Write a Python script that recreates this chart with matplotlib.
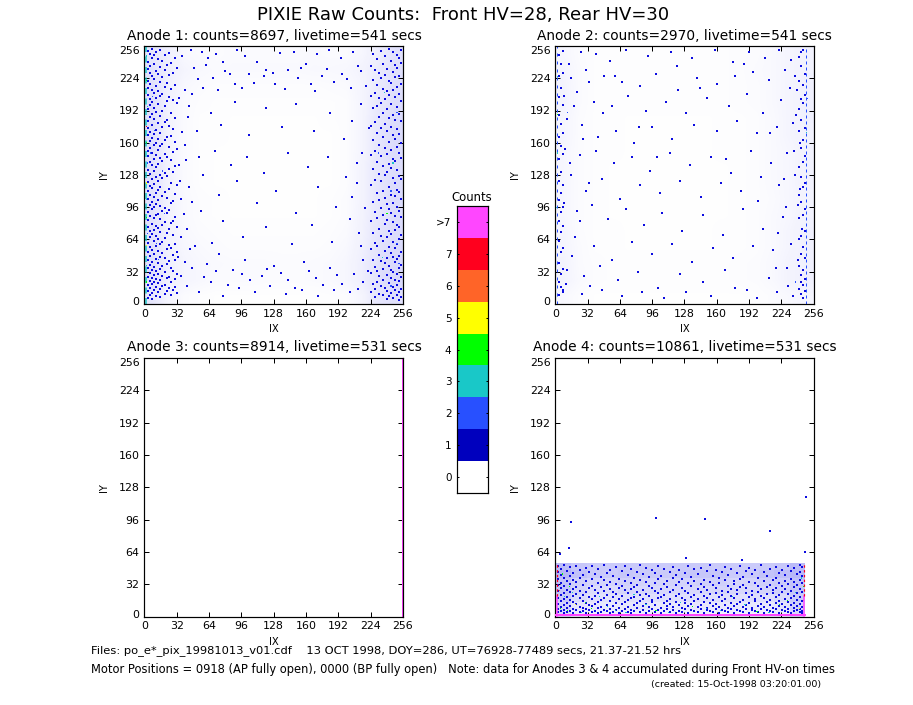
import matplotlib
matplotlib.use("Agg")
import matplotlib.pyplot as plt
import numpy as np
from matplotlib.colors import ListedColormap, LinearSegmentedColormap
from matplotlib.transforms import ScaledTranslation

plt.rcParams['font.family'] = ['DejaVu Sans']

W, H = 913, 705
main_title = "PIXIE Raw Counts:  Front HV=28, Rear HV=30"
panel_titles = ["Anode 1: counts=8697, livetime=541 secs",
                "Anode 2: counts=2970, livetime=541 secs",
                "Anode 3: counts=8914, livetime=531 secs",
                "Anode 4: counts=10861, livetime=531 secs"]
ticks = [0, 32, 64, 96, 128, 160, 192, 224, 256]
count_labels = ["0", "1", "2", "3", "4", "5", "6", "7", ">7"]
count_colors = ["#ffffff", "#0000be", "#2850ff", "#19c8c8", "#00ff00",
                "#ffff00", "#ff6428", "#ff001e", "#ff46ff"]
hit_color = "#0c0ce0"
foot1 = "Files: po_e*_pix_19981013_v01.cdf    13 OCT 1998, DOY=286, UT=76928-77489 secs, 21.37-21.52 hrs"
foot2 = "Motor Positions = 0918 (AP fully open), 0000 (BP fully open)   Note: data for Anodes 3 & 4 accumulated during Front HV-on times"
foot3 = "(created: 15-Oct-1998 03:20:01.00)"

# Estimated share (%) of lit pixels in 16x16 cells; rows from IY=240 down to IY=0,
# read by eye. The individual hits are far too many to read one by one.
p1_density = [
 [30,18, 8, 6, 5, 6, 6, 6, 6, 6, 7, 6, 6,10,20,35],
 [35,20,12, 8, 6, 7, 7, 7, 7, 7, 8, 8, 9,14,24,38],
 [36,18, 8, 5, 4, 4, 4, 4, 4, 4, 4, 5, 6,12,25,40],
 [38,16, 6, 4, 3, 3, 3, 3, 3, 3, 3, 3, 4,12,28,40],
 [38,15, 6, 3, 3, 2, 2, 2, 2, 2, 2, 3, 4,12,30,42],
 [38,14, 6, 3, 3, 2, 2, 2, 2, 2, 2, 2, 4,12,30,42],
 [38,14, 6, 3, 2, 2, 2, 2, 2, 2, 2, 2, 4,12,30,42],
 [36,15, 6, 3, 2, 2, 2, 2, 2, 2, 2, 2, 4,14,30,40],
 [36,16, 6, 3, 2, 2, 2, 2, 2, 2, 2, 2, 4,14,30,42],
 [36,16, 7, 4, 3, 2, 2, 2, 2, 2, 2, 3, 5,14,30,42],
 [36,16, 7, 4, 3, 2, 2, 2, 2, 2, 2, 3, 5,15,30,42],
 [36,17, 8, 5, 4, 3, 3, 3, 3, 3, 3, 4, 6,16,32,42],
 [36,18,10, 7, 5, 4, 4, 4, 4, 4, 4, 5, 8,18,34,44],
 [38,20,12, 9, 7, 6, 6, 6, 5, 5, 6, 7,10,20,36,46],
 [36,20,12, 9, 6, 6, 6, 5, 5, 5, 6, 7,10,20,36,46],
 [30,12, 5, 3, 2, 2, 2, 2, 2, 2, 2, 3, 4,12,30,36]]
p2_density = [
 [10, 5, 3, 3, 3, 3, 3, 3, 3, 3, 3, 4, 5, 8,12,16],
 [12, 6, 3, 3, 3, 3, 3, 3, 3, 3, 3, 4, 6, 8,12,16],
 [14, 6, 3, 3, 3, 3, 3, 3, 3, 3, 3, 4, 5, 8,12,18],
 [14, 6, 3, 3, 3, 3, 3, 3, 3, 3, 3, 4, 5, 8,12,18],
 [12, 5, 3, 3, 2, 2, 2, 2, 2, 2, 3, 3, 4, 7,12,18],
 [12, 5, 3, 3, 2, 2, 2, 2, 2, 2, 3, 3, 4, 7,12,16],
 [10, 5, 3, 3, 2, 2, 2, 2, 2, 2, 3, 3, 4, 7,10,16],
 [10, 5, 3, 2, 2, 2, 2, 2, 2, 2, 2, 3, 4, 7,10,16],
 [10, 5, 3, 2, 2, 2, 2, 2, 2, 2, 2, 3, 4, 7,10,16],
 [10, 5, 3, 2, 2, 2, 2, 2, 2, 2, 2, 3, 4, 6,10,14],
 [10, 5, 3, 2, 2, 2, 2, 2, 2, 2, 2, 3, 4, 7,10,16],
 [12, 5, 3, 3, 2, 2, 2, 2, 2, 2, 3, 3, 4, 7,12,18],
 [12, 6, 3, 3, 2, 2, 2, 2, 2, 2, 3, 3, 4, 7,12,18],
 [14, 6, 4, 3, 3, 3, 3, 3, 3, 3, 3, 4, 5, 8,14,18],
 [14, 7, 4, 3, 3, 3, 3, 3, 3, 3, 3, 4, 5, 8,14,18],
 [ 8, 4, 2, 2, 2, 2, 2, 2, 2, 2, 2, 2, 3, 5, 8,12]]
p4_y_edges = [0, 6, 14, 22, 30, 38, 46, 53]
p4_density = [
 [58,48,44,44,46,46,44,44,46,46,44,44,44,46,48,58],
 [62,52,46,44,48,46,46,46,48,48,48,44,46,50,54,60],
 [52,40,36,36,40,38,38,38,38,40,40,36,38,42,44,52],
 [50,38,30,30,36,34,34,34,34,34,36,34,34,38,40,50],
 [46,32,26,26,28,28,28,28,28,28,28,28,28,28,32,46],
 [38,24,20,20,20,22,20,20,20,20,20,20,20,20,24,40],
 [34,20,16,16,16,16,16,16,16,16,16,16,16,16,20,34]]

# Individual hits: (IX, IY)
p1_points = [
 (46,252),(57,250),(71,248),(78,240),(92,252),(100,246),(112,240),(120,232),(134,249),(148,250),(160,238),(171,248),
 (183,252),(195,244),(207,250),(214,231),(221,33),(216,44),(212,70),(218,95),(210,120),(215,150),(222,175),(214,198),
 (205,214),(196,228),(188,220),(176,226),(165,218),(152,224),(142,232),(129,218),(118,226),(104,228),(90,218),(80,231),
 (68,224),(58,214),(49,234),(40,212),(34,204),(44,196),(52,172),(66,190),(76,178),(90,200),(104,168),(120,194),
 (136,176),(150,198),(168,172),(184,190),(198,164),(206,182),(40,158),(54,146),(70,152),(86,138),(102,146),(118,130),
 (142,150),(162,136),(182,146),(200,126),(210,140),(34,138),(44,116),(58,128),(74,108),(92,122),(112,100),(130,112),
 (150,90),(172,116),(190,96),(206,106),(36,104),(42,74),(56,92),(78,82),(98,66),(120,76),(146,60),(166,78),
 (186,62),(204,84),(214,58),(36,66),(40,42),(50,58),(62,40),(74,50),(88,34),(100,44),(116,28),(128,38),
 (142,24),(158,42),(170,26),(184,36),(196,20),(208,30),(216,22),(36,28),(42,18),(54,12),(66,22),(78,8),
 (94,16),(110,12),(124,18),(140,10),(156,14),(172,8),(188,14),(204,12),(47,36),(59,27),(71,33),(83,19),
 (97,30),(105,24),(121,35),(135,31),(149,16),(163,33),(177,19),(191,29),(211,15),(33,47),(45,55),(67,61),
 (39,89),(47,101),(35,122),(41,143),(37,171),(43,186),(47,208),(53,223),(61,237),(73,212),(85,228),(97,214),
 (109,219),(127,229),(139,213),(155,234),(169,211),(181,233),(201,223),(211,236),(219,216),(63,244),(37,246)]
# Dense edge bands: IX column -> IY of the hits estimated in that column
p1_columns = {
 4:[251,240,233,221,214,207,193,182,175,168,152,147,133,121,112,104,91,83,76,61,52,44,36,27,19,13,6],
 6:[248,236,229,218,203,197,186,171,162,155,141,129,117,108,98,87,72,66,57,48,39,31,23,16,9],
 8:[253,244,226,212,200,189,178,165,150,138,124,115,101,94,79,69,54,42,34,26,20,11,5],
 10:[247,238,223,209,194,184,169,158,144,132,119,106,96,85,73,63,50,37,29,22,14],
 12:[250,231,216,204,191,173,160,148,136,126,110,99,88,77,67,58,45,33,25,17,8],
 14:[243,228,211,198,180,164,153,139,122,113,103,89,75,64,53,41,30,21,12],
 16:[252,235,220,206,187,170,157,145,128,116,97,84,71,60,47,35,24,15,7],
 18:[241,225,208,192,176,159,142,125,107,92,78,62,51,38,28,18],
 20:[247,232,215,196,181,163,149,130,111,95,81,65,46,32,19,10],
 22:[237,219,201,183,166,146,127,105,90,70,55,40,26,13],
 24:[249,227,205,177,156,134,114,93,74,59,43,27,16],
 26:[239,213,190,167,143,120,100,80,56,36,22,9],
 28:[229,202,174,151,131,102,82,68,49,33,14],
 30:[244,217,185,161,137,109,86,60,44,25,17],
 32:[234,199,154,118,76,52,30,11],
 224:[236,206,177,148,118,82,55,31,12],
 226:[248,222,194,163,134,101,70,44,20],
 228:[232,209,181,152,123,91,61,37,15,7],
 230:[243,217,196,170,141,110,85,58,33,22],
 232:[229,204,186,158,129,103,74,49,28,10],
 234:[251,224,199,175,147,122,95,67,43,18],
 236:[238,213,190,166,137,112,88,63,35,24,9],
 238:[246,227,203,179,155,128,105,79,53,41,16],
 240:[233,211,193,172,149,131,99,83,66,46,29,13,5],
 242:[253,221,207,185,161,139,116,94,72,57,38,21,8],
 244:[241,219,198,176,153,135,108,90,69,51,34,26,11],
 246:[250,230,212,188,168,144,125,100,81,62,47,32,17,6],
 248:[237,225,205,183,164,142,120,107,87,73,56,42,24,14],
 250:[247,234,215,195,174,156,133,113,96,78,60,45,30,19,9],
 252:[244,226,208,189,169,150,127,111,92,76,64,48,36,23,12,4],
 254:[252,239,218,201,182,160,145,124,104,86,68,52,39,27,15,7]}
p2_points = [
 (14,238),(25,250),(40,248),(54,241),(70,252),(92,246),(115,250),(136,244),(158,252),(176,240),(192,250),(208,244),
 (222,252),(234,242),(244,250),(238,226),(228,232),(212,222),(196,230),(178,226),(160,218),(140,224),(122,212),(100,228),
 (84,216),(66,220),(48,226),(30,232),(16,224),(9,206),(22,210),(38,200),(56,196),(72,206),(90,192),(110,200),
 (130,190),(150,204),(172,196),(190,208),(206,190),(224,202),(240,212),(236,180),(220,176),(200,170),(180,182),(160,172),
 (138,178),(116,164),(96,176),(78,160),(60,172),(42,166),(26,178),(12,184),(10,154),(24,148),(40,152),(58,140),
 (76,146),(94,132),(114,150),(134,138),(154,146),(174,130),(194,152),(214,140),(230,150),(243,160),(238,128),(222,118),
 (204,126),(184,112),(164,120),(144,106),(124,122),(104,110),(84,118),(64,104),(46,124),(30,112),(16,128),(9,100),
 (22,92),(36,98),(52,84),(70,94),(88,78),(106,90),(126,72),(146,88),(166,68),(186,94),(206,74),(226,86),
 (241,98),(234,60),(216,54),(196,58),(176,46),(156,56),(136,42),(116,60),(96,50),(76,62),(56,44),(38,58),
 (20,66),(12,34),(28,28),(44,38),(62,24),(82,32),(102,16),(124,30),(146,22),(168,34),(190,14),(212,26),
 (230,36),(244,22),(236,8),(220,12),(200,6),(178,16),(154,8),(130,12),(108,6),(86,12),(66,8),(46,14),
 (26,10),(8,14),(33,220),(19,196),(27,164),(15,140),(33,120),(24,82),(17,48),(11,20),(34,18),(47,190),
 (59,226),(83,176),(101,146),(121,236),(143,214),(169,144),(187,238),(201,102),(213,170),(219,36),(227,124),(233,214),
 (239,188),(243,114),(221,70),(231,18),(241,44),(245,74),(237,152),(229,96)]
p2_columns = {
 4:[247,226,205,188,166,144,122,103,82,63,41,22,9],
 6:[238,214,179,157,131,110,91,71,52,30,17],
 8:[251,229,197,170,149,118,96,77,56,35,12],
 242:[245,221,193,172,136,108,85,64,38,15],
 244:[236,203,183,155,126,101,67,50,29,10],
 246:[252,217,199,163,141,116,88,57,34,19,6],
 248:[228,207,175,147,120,94,72,46,25,13]}
# Hits with more than one count: (IX, IY, counts)
p1_hot = [(2,246,3),(2,222,4),(3,196,3),(2,176,7),(2,160,4),(3,140,2),(2,120,5),(2,104,3),(2,86,4),(3,70,2),(2,58,5),(2,38,3),
          (2,22,4),(246,140,3),(240,90,4),(236,46,3),(244,18,2),(232,150,2),(12,60,2),(18,132,2),(8,206,2),(250,60,2),
          (6,150,2),(10,172,2),(250,190,2),(244,112,2),(238,210,3),(252,40,2),(14,44,2),(20,90,2)]
p2_hot = [(2,226,3),(2,188,4),(2,150,3),(2,120,2),(1,96,3),(249,170,3),(249,132,2),(250,204,2),(249,96,2),(12,190,2),(238,22,2)]
p4_hot = [(5,8,4),(9,20,3),(14,30,4),(20,12,5),(26,4,3),(36,8,4),(44,20,3),(60,6,3),(78,22,3),(100,6,4),(124,14,3),(150,8,3),
          (176,20,3),(200,5,4),(222,12,4),(238,24,3),(242,8,5),(244,38,3),(7,42,4),(4,26,6),(246,16,6),(246,30,4),
          (12,6,4),(17,24,3),(30,14,4),(52,10,3),(70,4,3),(90,12,3),(112,4,3),(136,10,4),(164,6,3),(188,12,3),(212,4,3),(230,16,4)]
p4_sparse = [(16,94),(5,62),(14,68),(100,98),(148,97),(213,85),(185,56),(248,64),(249,118),(130,58)]
# Anode 4 band: IX column -> IY of the hits estimated in that column
p4_columns = {
 3:[50,44,37,31,25,18,12,7,4],6:[47,41,33,28,21,15,9,5],9:[51,38,30,23,17,11,6,3],12:[45,35,26,19,13,8,4],
 15:[49,40,32,24,16,10,5],18:[43,36,27,20,14,7,3],21:[50,34,29,22,12,6],24:[46,38,25,18,9,4],
 27:[41,31,21,15,8,5],30:[48,35,24,13,7,3],33:[44,28,19,11,6],36:[50,37,30,17,10,4],
 39:[42,26,20,12,5],42:[47,33,23,14,8,3],45:[39,29,16,9,4],48:[51,36,25,18,6],
 51:[43,31,21,11,5],54:[46,34,27,15,7,3],57:[40,24,19,10,4],60:[49,32,22,13,6],
 63:[37,28,17,8,3],66:[45,30,20,12,5],69:[50,35,26,14,7],72:[41,23,16,9,4],
 75:[47,33,27,18,6,3],78:[38,29,19,11,5],81:[44,31,24,13,8],84:[51,36,21,15,4],
 87:[42,26,17,10,6],90:[48,34,22,12,3],93:[39,30,20,9,5],96:[46,28,16,14,7],
 99:[43,33,25,11,4],102:[50,37,23,18,6],105:[40,27,19,8,3],108:[47,32,21,13,5],
 111:[35,29,15,10,7],114:[44,24,17,12,4],117:[49,38,26,9,6],120:[41,31,20,14,3],
 123:[46,34,22,11,5],126:[37,28,18,8,4],129:[43,25,16,13,7],132:[50,33,23,10,3],
 135:[39,30,19,12,6],138:[47,35,21,15,5],141:[42,27,17,9,4],144:[48,32,24,11,7],
 147:[36,29,20,14,3],150:[45,26,18,8,6],153:[51,34,22,13,5],156:[40,31,16,10,4],
 159:[46,28,23,12,7],162:[38,33,19,9,3],165:[44,25,21,15,6],168:[49,36,17,11,5],
 171:[41,30,24,8,4],174:[47,27,20,13,7],177:[35,32,18,10,3],180:[43,26,22,12,6],
 183:[50,37,29,14,5],186:[39,31,16,9,4],189:[45,28,23,11,7],192:[48,34,19,13,3],
 195:[42,25,21,8,6],198:[46,33,17,15,5],201:[38,30,24,10,4],204:[51,27,20,12,7],
 207:[44,35,18,9,3],210:[40,29,22,14,6],213:[47,31,16,11,5],216:[36,26,23,8,4],
 219:[49,38,28,19,13,7],222:[43,33,21,15,10,3],225:[46,30,24,12,6],228:[41,35,27,17,9,5],
 231:[50,32,22,14,7,4],234:[45,37,25,18,11,3],237:[48,34,29,20,13,8,5],240:[42,31,23,16,10,6],
 243:[51,44,36,27,19,12,7,4],245:[49,40,33,24,15,9,5,3]}

# Edge columns and rows that were saturated in the picture
p3_edge_x, p3_edge_y, p3_edge_n = [255, 255], [0, 256], [8, 8]
p4_bottom_iy = 1
p4_left_ix, p4_right_ix, p4_top_iy = 2, 247, 52


def box(l, t, r, b):
    return [l / W, 1 - b / H, (r - l) / W, (b - t) / H]


def px(v):
    return v * 72 / 100


def expand(columns):
    return [(x, y) for x, ys in columns.items() for y in ys]


fig = plt.figure(figsize=(W / 100, H / 100), dpi=100, facecolor='white')
cmap = ListedColormap(count_colors)
haze = LinearSegmentedColormap.from_list('haze', ['#ffffff', '#1414e6'])
boxes = [box(144.3, 46, 403, 304), box(555.3, 46, 813.5, 304),
         box(144.3, 358, 403, 616.5), box(555.3, 358, 813.5, 616.5)]
titlesY = [36, 36, 347, 347]
axes = []
for rect, title, ty in zip(boxes, panel_titles, titlesY):
    ax = fig.add_axes(rect)
    ax.set_xlim(0, 256)
    ax.set_ylim(0, 256)
    ax.set_xticks(ticks)
    ax.set_yticks(ticks)
    ax.tick_params(direction='in', length=px(5), width=px(1), top=True, right=True,
                   labelsize=7.9, pad=3.5)
    for s in ax.spines.values():
        s.set_linewidth(px(1.2))
    ax.set_xlabel("IX", fontsize=7.2, labelpad=4)
    ax.set_ylabel("IY", fontsize=7.2, labelpad=7)
    ylabs = ax.get_yticklabels()
    ylabs[0].set_transform(ylabs[0].get_transform() + ScaledTranslation(0, 3 / 100, fig.dpi_scale_trans))
    ylabs[-1].set_transform(ylabs[-1].get_transform() + ScaledTranslation(0, -4 / 100, fig.dpi_scale_trans))
    c = (rect[0] + rect[2] / 2)
    fig.text(c + 0.5 / W, 1 - ty / H, title, ha='center', va='center', fontsize=9.9)
    axes.append(ax)


def hits(ax, pts):
    arr = np.array(pts)
    ax.scatter(arr[:, 0], arr[:, 1], marker='s', s=px(1.35) ** 2, c=hit_color,
               linewidths=0, antialiased=False, zorder=3)


def hot(ax, pts):
    arr = np.array(pts)
    ax.scatter(arr[:, 0], arr[:, 1], marker='s', s=px(1.35) ** 2,
               c=[count_colors[int(v)] for v in arr[:, 2]], linewidths=0,
               antialiased=False, zorder=4)


for ax, dens, pts, cols, hp in [(axes[0], p1_density, p1_points, p1_columns, p1_hot),
                                (axes[1], p2_density, p2_points, p2_columns, p2_hot)]:
    ax.imshow(dens, extent=(0, 256, 0, 256), origin='upper', cmap=haze, vmin=0, vmax=280,
              interpolation='bilinear', aspect='auto', zorder=1)
    hits(ax, pts)
    hits(ax, expand(cols))
    hot(ax, hp)

ax = axes[1]
ax.plot([2, 2], [0, 256], color=count_colors[2], lw=px(1), ls=(0, (3, 5)), zorder=2)
ax.plot([249, 249], [0, 256], color=count_colors[2], lw=px(1), ls=(0, (3, 3)), zorder=2)
ax = axes[0]
ax.plot([2, 2], [0, 256], color=count_colors[3], lw=px(1.5), ls=(0, (4, 3)), zorder=2)

ax = axes[2]
ax.plot(p3_edge_x, p3_edge_y, color=count_colors[p3_edge_n[0]], lw=px(1), zorder=2)

ax = axes[3]
xe = np.arange(0, 257, 16) * 248 / 256
ax.pcolormesh(xe, p4_y_edges, p4_density[::-1], cmap=haze, vmin=0, vmax=200, zorder=1)
hits(ax, p4_sparse)
hits(ax, expand(p4_columns))
hot(ax, p4_hot)
ax.plot([0, 248], [p4_bottom_iy, p4_bottom_iy], color=count_colors[8], lw=px(2), zorder=5)
ax.plot([p4_left_ix, p4_left_ix], [0, 20], color=count_colors[8], lw=px(1.5), zorder=5)
ax.plot([p4_left_ix, p4_left_ix], [20, p4_top_iy], color=count_colors[7], lw=px(1.2), ls=(0, (2, 2)), zorder=5)
ax.plot([p4_right_ix, p4_right_ix], [0, 20], color=count_colors[8], lw=px(1.5), zorder=5)
ax.plot([p4_right_ix, p4_right_ix], [20, p4_top_iy], color=count_colors[7], lw=px(1.2), ls=(0, (2, 2)), zorder=5)

cb = fig.add_axes(box(457, 206, 488, 493))
levels = np.arange(len(count_labels))
cb.pcolormesh([0, 1], np.arange(len(levels) + 1) - 0.5, levels[:, None], cmap=cmap,
              vmin=-0.5, vmax=8.5)
cb.set_xlim(0, 1)
cb.set_ylim(-0.5, 8.5)
cb.set_xticks([])
cb.set_yticks(levels)
cb.set_yticklabels(count_labels)
cb.tick_params(direction='in', length=px(2), width=px(1), right=True, labelsize=7.5, pad=4)
for s in cb.spines.values():
    s.set_linewidth(px(1.2))
fig.text(472 / W, 1 - 197 / H, "Counts", ha='center', va='center', fontsize=8.4)

fig.text(463 / W, 1 - 15 / H, main_title, ha='center', va='center', fontsize=13)
fig.text(91 / W, 1 - 651 / H, foot1, ha='left', va='center', fontsize=8.25)
fig.text(91 / W, 1 - 670 / H, foot2, ha='left', va='center', fontsize=8.3)
fig.text(651 / W, 1 - 685 / H, foot3, ha='left', va='center', fontsize=6.8)

fig.savefig('out.png', dpi=100, facecolor='white')
